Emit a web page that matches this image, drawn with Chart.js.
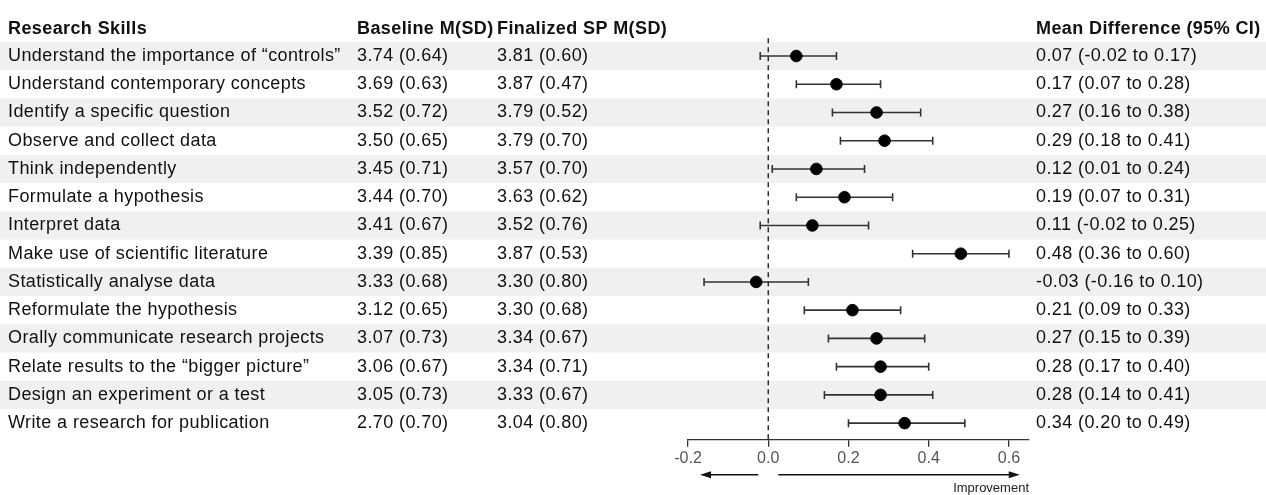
<!DOCTYPE html>
<html>
<head>
<meta charset="utf-8">
<script src="https://cdn.jsdelivr.net/npm/chart.js@4"></script>
<style>
  html, body { margin: 0; padding: 0; background: #fff; }
  canvas { display: block; }
</style>
</head>
<body>
<canvas id="forest" width="1266" height="495"></canvas>
<script>
// ---- data ----
const skills = [
  "Understand the importance of \u201ccontrols\u201d",
  "Understand contemporary concepts",
  "Identify a specific question",
  "Observe and collect data",
  "Think independently",
  "Formulate a hypothesis",
  "Interpret data",
  "Make use of scientific literature",
  "Statistically analyse data",
  "Reformulate the hypothesis",
  "Orally communicate research projects",
  "Relate results to the \u201cbigger picture\u201d",
  "Design an experiment or a test",
  "Write a research for publication"
];
const baseline = [
  "3.74 (0.64)", "3.69 (0.63)", "3.52 (0.72)", "3.50 (0.65)", "3.45 (0.71)",
  "3.44 (0.70)", "3.41 (0.67)", "3.39 (0.85)", "3.33 (0.68)", "3.12 (0.65)",
  "3.07 (0.73)", "3.06 (0.67)", "3.05 (0.73)", "2.70 (0.70)"
];
const finalized = [
  "3.81 (0.60)", "3.87 (0.47)", "3.79 (0.52)", "3.79 (0.70)", "3.57 (0.70)",
  "3.63 (0.62)", "3.52 (0.76)", "3.87 (0.53)", "3.30 (0.80)", "3.30 (0.68)",
  "3.34 (0.67)", "3.34 (0.71)", "3.33 (0.67)", "3.04 (0.80)"
];
const meanDiff = [0.07, 0.17, 0.27, 0.29, 0.12, 0.19, 0.11, 0.48, -0.03, 0.21, 0.27, 0.28, 0.28, 0.34];
const ciLow    = [-0.02, 0.07, 0.16, 0.18, 0.01, 0.07, -0.02, 0.36, -0.16, 0.09, 0.15, 0.17, 0.14, 0.20];
const ciHigh   = [0.17, 0.28, 0.38, 0.41, 0.24, 0.31, 0.25, 0.60, 0.10, 0.33, 0.39, 0.40, 0.41, 0.49];
const xTicks = [-0.2, 0.0, 0.2, 0.4, 0.6];
const headers = ["Research Skills", "Baseline M(SD)", "Finalized SP M(SD)", "Mean Difference (95% CI)"];

const FONT = '"Liberation Sans", Arial, sans-serif';
const colX = [8, 357, 497, 1036];

function fmt(v) { return v.toFixed(2).replace("-0.00", "0.00"); }
const ciText = meanDiff.map((m, i) => fmt(m) + " (" + fmt(ciLow[i]) + " to " + fmt(ciHigh[i]) + ")");

// ---- decorations ----
const forestDecor = {
  id: "forestDecor",
  beforeDraw(chart) {
    const { ctx, scales: { y } } = chart;
    ctx.save();
    ctx.fillStyle = "#eff1f0";
    skills.forEach((s, i) => {
      if (i % 2 !== 0) return;
      const top = y.getPixelForValue(i + 0.5);
      const bot = y.getPixelForValue(i + 1.5);
      ctx.fillRect(0, top, chart.width, bot - top);
    });
    ctx.restore();
  },
  beforeDatasetsDraw(chart) {
    const { ctx, scales: { x, y }, chartArea } = chart;
    ctx.save();
    // reference line at zero
    ctx.strokeStyle = "#111";
    ctx.lineWidth = 1.3;
    ctx.setLineDash([5, 4]);
    ctx.beginPath();
    ctx.moveTo(x.getPixelForValue(0), y.getPixelForValue(0.37));
    ctx.lineTo(x.getPixelForValue(0), chartArea.bottom);
    ctx.stroke();
    ctx.setLineDash([]);
    // confidence intervals
    ctx.strokeStyle = "#333";
    ctx.lineWidth = 1.6;
    meanDiff.forEach((m, i) => {
      const py = y.getPixelForValue(i + 1);
      const x1 = x.getPixelForValue(ciLow[i]);
      const x2 = x.getPixelForValue(ciHigh[i]);
      ctx.beginPath();
      ctx.moveTo(x1, py); ctx.lineTo(x2, py);
      ctx.moveTo(x1, py - 4); ctx.lineTo(x1, py + 4);
      ctx.moveTo(x2, py - 4); ctx.lineTo(x2, py + 4);
      ctx.stroke();
    });
    ctx.restore();
  },
  afterDraw(chart) {
    const { ctx, scales: { x, y }, chartArea } = chart;
    ctx.save();
    ctx.textBaseline = "middle";
    ctx.fillStyle = "#111";
    ctx.letterSpacing = "0.4px";
    // headers
    ctx.font = "bold 18px " + FONT;
    headers.forEach((h, c) => ctx.fillText(h, colX[c], y.getPixelForValue(0) + 1));
    // table rows
    ctx.font = "18px " + FONT;
    skills.forEach((s, i) => {
      const py = y.getPixelForValue(i + 1);
      ctx.fillText(s, colX[0], py);
      ctx.fillText(baseline[i], colX[1], py);
      ctx.fillText(finalized[i], colX[2], py);
      ctx.fillText(ciText[i], colX[3], py);
    });
    ctx.letterSpacing = "0px";
    // direction arrows
    const ay = chartArea.bottom + 35;
    ctx.strokeStyle = "#111";
    ctx.fillStyle = "#111";
    ctx.lineWidth = 1.5;
    const arrow = (from, to) => {
      const a = x.getPixelForValue(from), b = x.getPixelForValue(to);
      const dir = Math.sign(b - a);
      ctx.beginPath();
      ctx.moveTo(a, ay); ctx.lineTo(b - dir * 8, ay);
      ctx.stroke();
      ctx.beginPath();
      ctx.moveTo(b, ay);
      ctx.lineTo(b - dir * 11, ay - 3.5);
      ctx.lineTo(b - dir * 11, ay + 3.5);
      ctx.closePath();
      ctx.fill();
    };
    arrow(-0.025, -0.17);
    arrow(0.025, 0.627);
    ctx.font = "13px " + FONT;
    ctx.fillStyle = "#222";
    ctx.textAlign = "right";
    ctx.fillText("Improvement", x.getPixelForValue(0.65), ay + 14);
    ctx.restore();
  }
};

new Chart(document.getElementById("forest"), {
  type: "scatter",
  data: {
    datasets: [{
      data: meanDiff.map((m, i) => ({ x: m, y: i + 1 })),
      backgroundColor: "#000",
      borderColor: "#000",
      pointRadius: 5.8,
      pointHoverRadius: 5.8
    }]
  },
  options: {
    responsive: false,
    animation: false,
    devicePixelRatio: 1,
    layout: { padding: { left: 688, right: 237, top: 0, bottom: 25 } },
    plugins: { legend: { display: false }, tooltip: { enabled: false } },
    scales: {
      x: {
        type: "linear",
        min: -0.2,
        max: 0.65,
        afterBuildTicks: (scale) => { scale.ticks = xTicks.map(v => ({ value: v })); },
        grid: { drawOnChartArea: false, drawTicks: true, tickLength: 7, color: "#333", lineWidth: 1.3 },
        border: { display: true, color: "#333", width: 1.3 },
        ticks: {
          color: "#555",
          font: { family: FONT, size: 16 },
          padding: 2,
          maxRotation: 0,
          callback: (v) => Number(v).toFixed(1)
        }
      },
      y: {
        type: "linear",
        reverse: true,
        min: -0.742,
        max: 14.59,
        display: false
      }
    }
  },
  plugins: [forestDecor]
});
</script>
</body>
</html>
